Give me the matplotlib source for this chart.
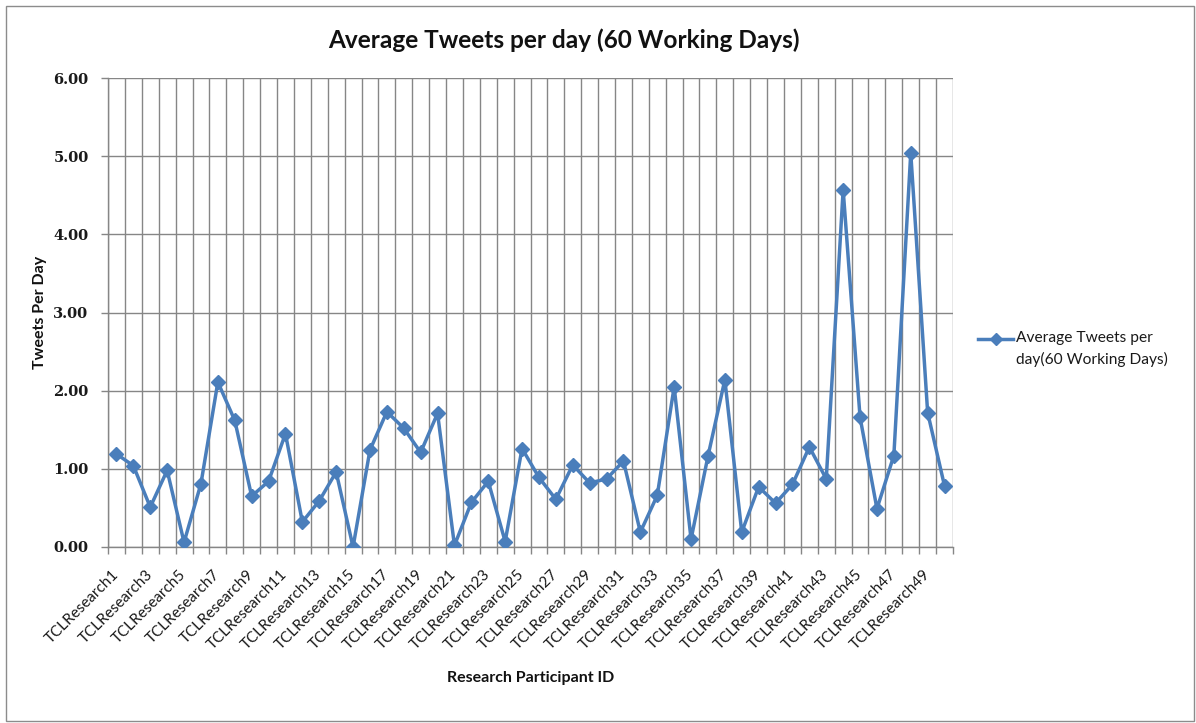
import matplotlib
matplotlib.use("Agg")
import matplotlib.pyplot as plt
from matplotlib.lines import Line2D
from matplotlib.patches import Rectangle
import numpy as np

# Participant IDs and their average tweets per day
participants = [f"TCLResearch{i}" for i in range(1, 51)]
tweets_per_day = [
    1.19, 1.04, 0.51, 0.98, 0.06, 0.81, 2.11, 1.62, 0.65, 0.84,
    1.45, 0.32, 0.59, 0.96, 0.00, 1.24, 1.73, 1.52, 1.21, 1.71,
    0.02, 0.57, 0.84, 0.07, 1.26, 0.89, 0.61, 1.05, 0.82, 0.87,
    1.10, 0.19, 0.66, 2.05, 0.10, 1.16, 2.14, 0.19, 0.77, 0.56,
    0.80, 1.28, 0.87, 4.57, 1.66, 0.49, 1.17, 5.04, 1.72, 0.78,
]
y_ticks = [0, 1, 2, 3, 4, 5, 6]

title = "Average Tweets per day (60 Working Days)"
series_name = "Average Tweets per\nday(60 Working Days)"
x_title = "Research Participant ID"
y_title = "Tweets Per Day"

LINE_BLUE = "#4A7EBB"
GRID_GRAY = "#868686"
FONT = ["Lato", "DejaVu Sans"]

W, H = 1196, 723
fig = plt.figure(figsize=(W / 100, H / 100), dpi=100)
fig.patch.set_facecolor("white")

# outer chart border
fig.add_artist(Rectangle((6 / W, 1 - 721 / H), (1194 - 6) / W, (721 - 6) / H,
                         transform=fig.transFigure, fill=False,
                         edgecolor="#8c8c8c", linewidth=1.0))

left, right, top, bottom = 108, 953, 78, 547
ax = fig.add_axes([left / W, 1 - bottom / H, (right - left) / W, (bottom - top) / H])

n = len(participants)
x = np.arange(1, n + 1)
ax.plot(x, tweets_per_day, color=LINE_BLUE, linewidth=2.5, marker="D",
        markersize=7.5, markerfacecolor=LINE_BLUE, markeredgecolor=LINE_BLUE,
        zorder=3, solid_joinstyle="round")

ax.set_xlim(0.5, n + 0.5)
ax.set_ylim(0, 6)

# category boundary ticks / vertical gridlines
boundaries = np.arange(0.5, n + 1, 1.0)
ax.set_xticks(boundaries)
ax.set_xticklabels([])
ax.tick_params(axis="x", which="major", length=5, color=GRID_GRAY, width=1)
# labels on every other category
ax.set_xticks(x[::2], participants[::2], minor=True)
ax.tick_params(axis="x", which="minor", length=0, pad=18)
for lbl in ax.get_xticklabels(minor=True):
    lbl.set_rotation(45)
    lbl.set_rotation_mode("anchor")
    lbl.set_ha("right")
    lbl.set_va("center")
    lbl.set_fontfamily(FONT)
    lbl.set_fontsize(11)
    lbl.set_color("#1a1a1a")

ax.set_yticks(y_ticks)
ax.set_yticklabels([f"{v:.2f}" for v in y_ticks], fontfamily="DejaVu Serif",
                   fontweight="bold", fontsize=10.5, color="#1a1a1a")
ax.tick_params(axis="y", length=5, color=GRID_GRAY, width=1, pad=9)

ax.grid(True, which="major", axis="both", color=GRID_GRAY, linewidth=1.0, zorder=0)
ax.set_axisbelow(True)
for side in ["top", "right"]:
    ax.spines[side].set_visible(False)
for side in ["left", "bottom"]:
    ax.spines[side].set_color(GRID_GRAY)
    ax.spines[side].set_linewidth(1.0)

fig.text(564 / W, 1 - 40 / H, title, ha="center", va="center",
         fontfamily=FONT, fontweight="bold", fontsize=17.6, color="#111111")
fig.text(531 / W, 1 - 678 / H, x_title, ha="center", va="center",
         fontfamily=FONT, fontweight="bold", fontsize=11.5, color="#111111")
fig.text(40 / W, 1 - 312 / H, y_title, ha="center", va="center", rotation=90,
         fontfamily=FONT, fontweight="bold", fontsize=11.5, color="#111111")

# legend entry
fig.add_artist(Line2D([978 / W, 1013 / W], [1 - 339 / H, 1 - 339 / H],
                      transform=fig.transFigure, color=LINE_BLUE, linewidth=2.5))
fig.add_artist(Line2D([995.5 / W], [1 - 339 / H], transform=fig.transFigure,
                      marker="D", markersize=6.5, color=LINE_BLUE, linestyle="none"))
fig.text(1016 / W, 1 - 331 / H, series_name, ha="left", va="top",
         fontfamily=FONT, fontsize=11.2, color="#1a1a1a", linespacing=1.6)

fig.savefig("out.png", dpi=100, facecolor="white")
